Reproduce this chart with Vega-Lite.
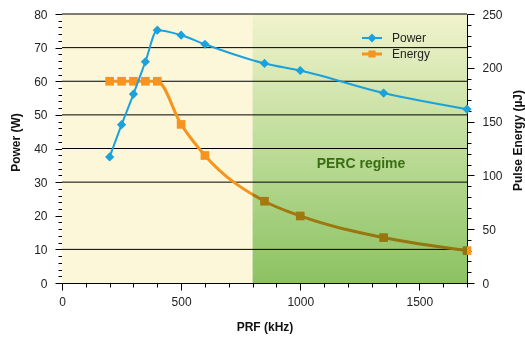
{
  "$schema": "https://vega.github.io/schema/vega-lite/v6.json",
  "width": 405,
  "height": 269,
  "autosize": "none",
  "padding": {"left": 62, "top": 14, "right": 58, "bottom": 54},
  "background": "white",
  "config": {
    "view": {"stroke": null},
    "font": "Liberation Sans",
    "axis": {
      "labelFont": "Liberation Sans",
      "labelFontSize": 12,
      "labelColor": "#222222",
      "titleFont": "Liberation Sans",
      "titleFontSize": 12,
      "titleFontWeight": "bold",
      "titleColor": "#111111",
      "domainColor": "#000000",
      "tickColor": "#000000",
      "grid": false,
      "labelOverlap": false,
      "labelFlush": false
    }
  },
  "encoding": {
    "x": {"field": "prf", "type": "quantitative", "scale": {"domain": [0, 1700], "nice": false},
      "axis": {"title": "PRF (kHz)", "values": [0,100,200,300,400,500,600,700,800,900,1000,1100,1200,1300,1400,1500,1600,1700],
        "labelExpr": "datum.value % 500 === 0 ? format(datum.value, 'd') : ''",
        "labelOverlap": false, "labelFlush": false,
        "tickSize": {"condition": {"test": "datum.value % 500 === 0", "value": 7}, "value": 4},
        "labelPadding": 6, "titleY": 43, "titleBaseline": "middle"}}
  },
  "resolve": {"scale": {"y": "independent"}, "axis": {"y": "independent"}},
  "layer": [
    {
      "data": {"values": [{"prf": 0, "end": 800}]},
      "mark": {"type": "rect", "color": "#FCF7D8"},
      "encoding": {"x2": {"field": "end"}}
    },
    {
      "data": {"values": [{"g": 10, "prf": 0, "end": 1700}, {"g": 30, "prf": 0, "end": 1700}, {"g": 40, "prf": 0, "end": 1700}, {"g": 50, "prf": 0, "end": 1700}, {"g": 60, "prf": 0, "end": 1700}, {"g": 70, "prf": 0, "end": 1700}, {"g": 80, "prf": 0, "end": 1700}]},
      "mark": {"type": "rule", "color": "#000000", "strokeWidth": 1},
      "encoding": {
        "x2": {"field": "end"},
        "y": {"field": "g", "type": "quantitative", "scale": {"domain": [0, 80], "nice": false},
          "axis": {"title": "Power (W)", "orient": "left",
            "values": [0,2,4,6,8,10,12,14,16,18,20,22,24,26,28,30,32,34,36,38,40,42,44,46,48,50,52,54,56,58,60,62,64,66,68,70,72,74,76,78,80],
            "labelExpr": "datum.value % 10 === 0 ? format(datum.value, 'd') : ''",
            "labelOverlap": false, "labelFlush": false,
            "tickSize": {"condition": {"test": "datum.value % 10 === 0", "value": 7}, "value": 4},
            "labelPadding": 8, "titleX": -47, "titleY": 128, "titleAngle": 270, "titleAlign": "center", "titleBaseline": "middle"}}
      }
    },
    {
      "data": {"values": [
        {"prf": 200, "energy": 187.5}, {"prf": 250, "energy": 187.5}, {"prf": 300, "energy": 187.5},
        {"prf": 350, "energy": 187.5}, {"prf": 400, "energy": 187.5}, {"prf": 500, "energy": 147.4},
        {"prf": 600, "energy": 118.5}, {"prf": 850, "energy": 76}, {"prf": 1000, "energy": 62.3},
        {"prf": 1350, "energy": 42.2}, {"prf": 1700, "energy": 30.1}
      ]},
      "encoding": {
        "y": {"field": "energy", "type": "quantitative", "scale": {"domain": [0, 250], "nice": false},
          "axis": {"title": "Pulse Energy (µJ)", "orient": "right",
            "values": [0,10,20,30,40,50,60,70,80,90,100,110,120,130,140,150,160,170,180,190,200,210,220,230,240,250],
            "labelExpr": "datum.value % 50 === 0 ? format(datum.value, 'd') : ''",
            "labelOverlap": false, "labelFlush": false,
            "tickSize": {"condition": {"test": "datum.value % 50 === 0", "value": 7}, "value": 4},
            "labelPadding": 8, "titleX": 50, "titleY": 126, "titleAngle": 270, "titleAlign": "center", "titleBaseline": "middle"}}
      },
      "layer": [
        {
          "mark": {"type": "line", "interpolate": "monotone", "strokeWidth": 3},
          "encoding": {
            "color": {"datum": "Energy", "type": "nominal",
              "scale": {"domain": ["Power", "Energy"], "range": ["#1BA1DB", "#F7941D"]},
              "legend": {"title": null, "orient": "none", "legendX": 300, "legendY": 14, "padding": 0,
                "symbolSize": 400, "labelOffset": 10, "rowPadding": -1,
                "labelFont": "Liberation Sans", "labelFontSize": 12, "labelColor": "#222222",
                "encode": {"symbols": {"update": {
                  "shape": {"signal": "datum.value === 'Power' ? 'M-1,-0.11L1,-0.11L1,0.11L-1,0.11Z M0,-0.45L0.45,0L0,0.45L-0.45,0Z' : 'M-1,-0.14L1,-0.14L1,0.14L-1,0.14Z M-0.36,-0.36L0.36,-0.36L0.36,0.36L-0.36,0.36Z'"},
                  "fill": {"scale": "color", "field": "value"},
                  "fillOpacity": {"value": 1},
                  "strokeWidth": {"value": 0}
                }}}}}
          }
        },
        {
          "mark": {"type": "point", "shape": "square", "filled": true, "size": 75, "color": "#F7941D", "opacity": 1}
        }
      ]
    },
    {
      "data": {"values": [{"prf": 800, "end": 1700}]},
      "mark": {"type": "rect", "blend": "multiply",
        "color": {"gradient": "linear", "x1": 0, "y1": 0, "x2": 0, "y2": 1,
          "stops": [{"offset": 0, "color": "#F1F3CD"}, {"offset": 0.5, "color": "#BDDC98"}, {"offset": 1, "color": "#8CC263"}]}},
      "encoding": {"x2": {"field": "end"}}
    },
    {
      "data": {"values": [
        {"prf": 200, "power": 37.5}, {"prf": 250, "power": 47.1}, {"prf": 300, "power": 56.2},
        {"prf": 350, "power": 65.8}, {"prf": 400, "power": 75.2}, {"prf": 500, "power": 73.7},
        {"prf": 600, "power": 71.0}, {"prf": 850, "power": 65.3}, {"prf": 1000, "power": 63.2},
        {"prf": 1350, "power": 56.5}, {"prf": 1700, "power": 51.7}
      ]},
      "encoding": {
        "y": {"field": "power", "type": "quantitative", "scale": {"domain": [0, 80], "nice": false}, "axis": null}
      },
      "layer": [
        {
          "mark": {"type": "line", "interpolate": "monotone", "strokeWidth": 2},
          "encoding": {"color": {"datum": "Power", "type": "nominal"}}
        },
        {
          "mark": {"type": "point", "shape": "diamond", "filled": true, "size": 85, "color": "#1BA1DB", "opacity": 1}
        }
      ]
    },
    {
      "data": {"values": [{"prf": 1255, "power": 35.3, "label": "PERC regime"}]},
      "mark": {"type": "text", "font": "Liberation Sans", "fontSize": 14, "fontWeight": "bold", "color": "#3A6E12", "align": "center", "baseline": "middle"},
      "encoding": {
        "y": {"field": "power", "type": "quantitative", "scale": {"domain": [0, 80], "nice": false}, "axis": null},
        "text": {"field": "label"}
      }
    }
  ]
}
